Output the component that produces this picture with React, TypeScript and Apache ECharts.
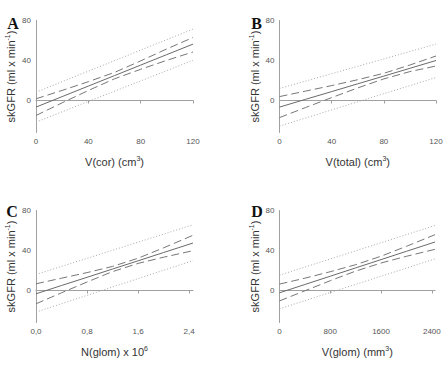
import React, { useEffect, useRef } from "react";
import * as echarts from "echarts";

// Panel A: V(cor) (cm3)
const xA = [0, 20, 40, 60, 80, 100, 120];
const fitA = [-6.6, 3.9, 14.4, 24.9, 35.4, 45.9, 56.4];
const ciUpA = [1.7, 10.1, 18.8, 28.1, 39.6, 51.6, 63];
const ciLoA = [-15, -2.3, 10.0, 21.7, 31.2, 40.2, 48.5];
const piXA = [0, 120];
const piUpA = [8.3, 71.4];
const piLoA = [-21.6, 40.2];

// Panel B: V(total) (cm3)
const xB = [0, 20, 40, 60, 80, 100, 120];
const fitB = [-6.6, 1.2, 8.9, 16.7, 24.4, 32.2, 40];
const ciUpB = [3.9, 9.4, 14.9, 20.8, 27.2, 35.5, 44.5];
const ciLoB = [-17.1, -7.0, 2.9, 12.6, 21.6, 28.9, 34.5];
const piXB = [0, 120];
const piUpB = [12, 56.4];
const piLoB = [-25.6, 23];

// Panel C: N(glom) x 10^6
const xC = [0, 0.4, 0.8, 1.2, 1.6, 2.0, 2.46];
const fitC = [-3.3, 5.0, 13.2, 21.5, 29.7, 38.0, 47.5];
const ciUpC = [6.7, 12.3, 17.9, 24.1, 32.3, 42.7, 55.2];
const ciLoC = [-13.3, -2.3, 8.5, 18.9, 27.1, 33.3, 39.8];
const piXC = [0, 2.46];
const piUpC = [16, 65.7];
const piLoC = [-21.6, 29.9];

// Panel D: V(glom) (mm3)
const xD = [0, 400, 800, 1200, 1600, 2000, 2450];
const fitD = [-2.3, 6.0, 14.3, 22.6, 30.9, 39.2, 48.5];
const ciUpD = [6.4, 12.3, 18.8, 25.8, 34.3, 44.2, 55.8];
const ciLoD = [-10.4, -0.3, 9.8, 19.4, 27.5, 34.2, 41.2];
const piXD = [0, 2450];
const piUpD = [15.3, 65];
const piLoD = [-18.3, 31.6];

// Axes
const yTicks = [0, 40, 80];
const xTicksA = [0, 40, 80, 120];
const xTicksB = [0, 40, 80, 120];
const xTicksC = [0, 0.8, 1.6, 2.4];
const xTicksD = [0, 800, 1600, 2400];
const xMax = [120, 120, 2.46, 2450];
const xNames = [
  "V(cor) (cm{sup|3})",
  "V(total) (cm{sup|3})",
  "N(glom) x 10{sup|6}",
  "V(glom) (mm{sup|3})",
];
const yName = "skGFR (ml x min{sup|-1})";
const letters = ["A", "B", "C", "D"];

const FONT = "'Liberation Sans', Arial, sans-serif";

export default function App() {
  const ref = useRef<HTMLDivElement>(null);
  useEffect(() => {
    document.body.style.margin = "0";
    if (!ref.current) return;
    const chart = echarts.init(ref.current, undefined, { renderer: "svg" });

    const grids = [
      { left: 36, top: 20.5, width: 157, height: 112 },
      { left: 279.5, top: 20.5, width: 156.5, height: 112 },
      { left: 36, top: 210.5, width: 157, height: 112 },
      { left: 279.5, top: 210.5, width: 155.5, height: 112 },
    ];
    const xTicks = [xTicksA, xTicksB, xTicksC, xTicksD];
    const panels = [
      { x: xA, fit: fitA, up: ciUpA, lo: ciLoA, px: piXA, pu: piUpA, pl: piLoA },
      { x: xB, fit: fitB, up: ciUpB, lo: ciLoB, px: piXB, pu: piUpB, pl: piLoB },
      { x: xC, fit: fitC, up: ciUpC, lo: ciLoC, px: piXC, pu: piUpC, pl: piLoC },
      { x: xD, fit: fitD, up: ciUpD, lo: ciLoD, px: piXD, pu: piUpD, pl: piLoD },
    ];
    const labelFmt = (i: number) => (v: number) =>
      i === 2 ? v.toFixed(1).replace(".", ",") : String(v);

    const xAxis = grids.map((_, i) => ({
      type: "value",
      gridIndex: i,
      min: 0,
      max: xMax[i],
      splitLine: { show: false },
      axisLine: { lineStyle: { color: "#a0a0a0", width: 1 } },
      axisTick: { show: true, length: 3, lineStyle: { color: "#a0a0a0" }, customValues: xTicks[i] },
      axisLabel: {
        customValues: xTicks[i],
        formatter: labelFmt(i),
        fontSize: 8,
        color: "#555",
        fontFamily: FONT,
        margin: 5,
        showMinLabel: true,
        showMaxLabel: true,
      },
      name: xNames[i],
      nameLocation: "middle",
      nameGap: 22,
      nameTextStyle: {
        fontSize: 11,
        color: "#333",
        fontFamily: FONT,
        lineHeight: 14,
        rich: { sup: { fontSize: 7, color: "#333", fontFamily: FONT, padding: [0, 0, 7, 0] } },
      },
    }));
    const yAxis = grids.map((_, i) => ({
      type: "value",
      gridIndex: i,
      min: -32,
      max: 80,
      splitLine: { show: false },
      axisLine: { show: true, lineStyle: { color: "#a0a0a0", width: 1 } },
      axisTick: { show: false },
      axisLabel: {
        customValues: yTicks,
        fontSize: 8,
        color: "#555",
        fontFamily: FONT,
        margin: 5,
      },
      name: yName,
      nameLocation: "middle",
      nameRotate: 90,
      nameGap: 18,
      nameTextStyle: {
        fontSize: 11,
        color: "#333",
        fontFamily: FONT,
        lineHeight: 14,
        rich: { sup: { fontSize: 7, color: "#333", fontFamily: FONT, padding: [0, 0, 7, 0] } },
      },
    }));

    const series: any[] = [];
    panels.forEach((p, i) => {
      const mk = (xs: number[], ys: number[], type: any, color: string) => ({
        type: "line",
        xAxisIndex: i,
        yAxisIndex: i,
        data: xs.map((x, k) => [x, ys[k]]),
        showSymbol: false,
        symbol: "none",
        smooth: false,
        lineStyle: { color, width: 1, type },
        silent: true,
      });
      series.push(mk(p.px, p.pu, [1, 2], "#aaaaaa"));
      series.push(mk(p.px, p.pl, [1, 2], "#aaaaaa"));
      series.push(mk(p.x, p.up, [8, 4], "#777"));
      series.push(mk(p.x, p.lo, [8, 4], "#777"));
      series.push(mk(p.x, p.fit, "solid", "#6a6a6a"));
    });

    const letterPos = [
      [13, 23],
      [256.5, 23],
      [12, 211],
      [257, 211],
    ];
    const graphic = letters.map((t, i) => ({
      type: "text",
      x: letterPos[i][0],
      y: letterPos[i][1],
      style: {
        text: t,
        font: "bold 16px 'Liberation Serif', 'Times New Roman', serif",
        fill: "#111",
        align: "center",
        verticalAlign: "middle",
      },
    }));

    chart.setOption({
      animation: false,
      backgroundColor: "#fff",
      grid: grids,
      xAxis,
      yAxis,
      series,
      graphic,
    });
    return () => chart.dispose();
  }, []);
  return <div ref={ref} style={{ width: 447, height: 379 }} />;
}
